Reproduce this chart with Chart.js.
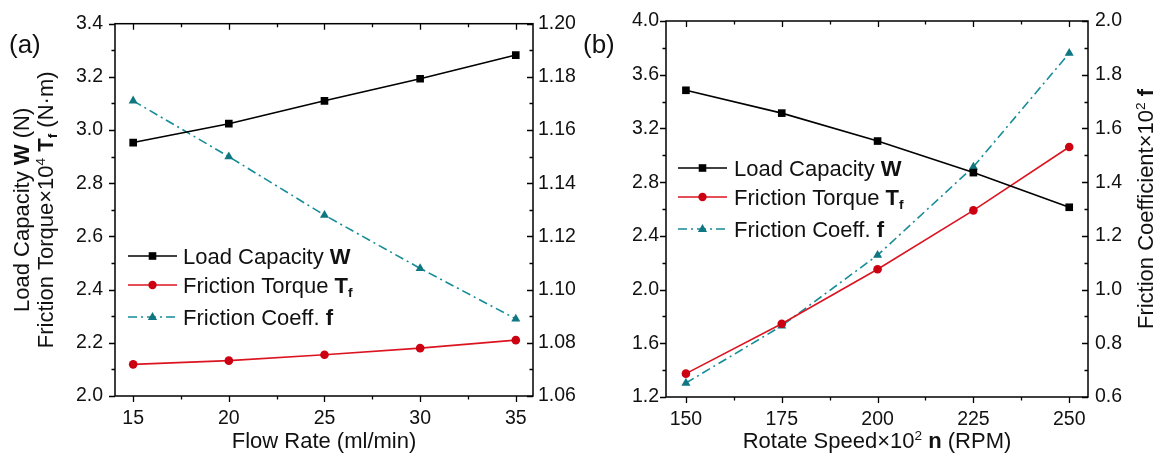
<!DOCTYPE html>
<html><head><meta charset="utf-8">
<script src="https://cdn.jsdelivr.net/npm/chart.js@4/dist/chart.umd.min.js"></script>
<style>
html,body{margin:0;padding:0;background:#fff;overflow:hidden;width:1158px;height:459px}
#wa{position:absolute;left:0;top:0;width:590px;height:459px}
#wb{position:absolute;left:580px;top:0;width:578px;height:459px}
canvas{display:block}
</style></head><body>
<div id="wa"><canvas id="ca" width="590" height="459"></canvas></div>
<div id="wb"><canvas id="cb" width="578" height="459"></canvas></div>
<script>
// ---------- Panel (a) data ----------
const flowRate = [15, 20, 25, 30, 35];
const loadCapacityA = [2.953, 3.024, 3.110, 3.193, 3.282];
const frictionTorqueA = [2.119, 2.133, 2.155, 2.180, 2.210];
const frictionCoeffA = [1.171, 1.150, 1.128, 1.108, 1.089];
const xTickLabelsA = ['15', '20', '25', '30', '35'];
const yLeftTickLabelsA = ['2.0', '2.2', '2.4', '2.6', '2.8', '3.0', '3.2', '3.4'];
const yRightTickLabelsA = ['1.06', '1.08', '1.10', '1.12', '1.14', '1.16', '1.18', '1.20'];

// ---------- Panel (b) data ----------
const rotateSpeed = [150, 175, 200, 225, 250];
const loadCapacityB = [3.484, 3.314, 3.106, 2.871, 2.613];
const frictionTorqueB = [1.374, 1.746, 2.151, 2.590, 3.062];
const frictionCoeffB = [0.652, 0.865, 1.128, 1.457, 1.880];
const xTickLabelsB = ['150', '175', '200', '225', '250'];
const yLeftTickLabelsB = ['1.2', '1.6', '2.0', '2.4', '2.8', '3.2', '3.6', '4.0'];
const yRightTickLabelsB = ['0.6', '0.8', '1.0', '1.2', '1.4', '1.6', '1.8', '2.0'];

const FAM = '"Liberation Sans", Arial, Helvetica, sans-serif';
const TXT = '#111';
const BLACK = '#000000';
const RED = '#dc1420';
const RED_M = '#cc0010';
const TEAL = '#168c98';
const TEAL_M = '#0e7782';
const DASHDOT = [9, 4, 2, 4];

function pts(xs, ys) { return xs.map((x, i) => ({ x: x, y: ys[i] })); }

function richWidth(ctx, segs, size) {
  let w = 0;
  for (const s of segs) {
    const sz = (s.sup || s.sub) ? size * 0.62 : size;
    ctx.font = (s.b ? 'bold ' : '') + sz + 'px ' + FAM;
    w += ctx.measureText(s.t).width;
  }
  return w;
}
function drawRich(ctx, segs, x, y, size, align) {
  const w = richWidth(ctx, segs, size);
  let cx = align === 'center' ? x - w / 2 : (align === 'right' ? x - w : x);
  ctx.textAlign = 'left';
  ctx.textBaseline = 'alphabetic';
  ctx.fillStyle = TXT;
  for (const s of segs) {
    const sz = (s.sup || s.sub) ? size * 0.62 : size;
    ctx.font = (s.b ? 'bold ' : '') + sz + 'px ' + FAM;
    let dy = 0;
    if (s.sup) dy = -size * 0.38;
    if (s.sub) dy = size * 0.2;
    ctx.fillText(s.t, cx, y + dy);
    cx += ctx.measureText(s.t).width;
  }
}
function drawMarker(ctx, kind, x, y, color) {
  ctx.save();
  ctx.fillStyle = color; ctx.strokeStyle = color; ctx.lineWidth = 1;
  ctx.setLineDash([]);
  ctx.beginPath();
  if (kind === 'rect') { ctx.rect(x - 3.8, y - 3.8, 7.6, 7.6); }
  else if (kind === 'circle') { ctx.arc(x, y, 4.2, 0, Math.PI * 2); }
  else { ctx.moveTo(x, y - 5); ctx.lineTo(x + 4.6, y + 3); ctx.lineTo(x - 4.6, y + 3); ctx.closePath(); }
  ctx.fill();
  ctx.restore();
}

function makeScaleSetup(labels) {
  const vals = labels.map(Number);
  return function (scale) { scale.ticks = vals.map(v => ({ value: v })); };
}
function fmt(labels) {
  const vals = labels.map(Number);
  return function (value) {
    const i = vals.findIndex(v => Math.abs(v - value) < 1e-9);
    return i >= 0 ? labels[i] : '';
  };
}

function decorPlugin(cfg) {
  return {
    id: 'decor' + cfg.id,
    afterDraw(chart) {
      const ctx = chart.ctx;
      const a = chart.chartArea;
      const xs = chart.scales.x, yl = chart.scales.y, yr = chart.scales.y1;
      ctx.save();
      // frame
      ctx.strokeStyle = '#000'; ctx.lineWidth = 1.5; ctx.setLineDash([]);
      ctx.strokeRect(a.left, a.top, a.right - a.left, a.bottom - a.top);
      ctx.lineWidth = 1.3;
      ctx.beginPath();
      // x ticks (bottom outward, top inward)
      const xv = cfg.xTicks.map(Number);
      const xMinor = [];
      for (let i = 0; i < xv.length - 1; i++) xMinor.push((xv[i] + xv[i + 1]) / 2);
      for (const v of xv) {
        const p = Math.round(xs.getPixelForValue(v)) + 0.5;
        ctx.moveTo(p, a.bottom); ctx.lineTo(p, a.bottom + 6);
        ctx.moveTo(p, a.top); ctx.lineTo(p, a.top + 6);
      }
      for (const v of xMinor) {
        const p = Math.round(xs.getPixelForValue(v)) + 0.5;
        ctx.moveTo(p, a.bottom); ctx.lineTo(p, a.bottom + 3.5);
        ctx.moveTo(p, a.top); ctx.lineTo(p, a.top + 3.5);
      }
      // left y ticks outward
      const lv = cfg.yLeft.map(Number);
      for (let i = 0; i < lv.length; i++) {
        const p = Math.round(yl.getPixelForValue(lv[i])) + 0.5;
        ctx.moveTo(a.left, p); ctx.lineTo(a.left - 6, p);
        if (i < lv.length - 1) {
          const q = Math.round(yl.getPixelForValue((lv[i] + lv[i + 1]) / 2)) + 0.5;
          ctx.moveTo(a.left, q); ctx.lineTo(a.left - 3.5, q);
        }
      }
      // right y ticks inward
      const rv = cfg.yRight.map(Number);
      for (let i = 0; i < rv.length; i++) {
        const p = Math.round(yr.getPixelForValue(rv[i])) + 0.5;
        ctx.moveTo(a.right, p); ctx.lineTo(a.right - 6, p);
        if (i < rv.length - 1) {
          const q = Math.round(yr.getPixelForValue((rv[i] + rv[i + 1]) / 2)) + 0.5;
          ctx.moveTo(a.right, q); ctx.lineTo(a.right - 3.5, q);
        }
      }
      ctx.stroke();

      // panel label
      ctx.font = '26px ' + FAM; ctx.fillStyle = TXT; ctx.textAlign = 'left'; ctx.textBaseline = 'alphabetic';
      ctx.fillText(cfg.panel, cfg.panelX, cfg.panelY);

      // x title
      drawRich(ctx, cfg.xTitle, (a.left + a.right) / 2, cfg.xTitleY, 22, 'center');

      // rotated titles
      const cy = (a.top + a.bottom) / 2;
      for (const t of cfg.vTitles) {
        ctx.save();
        ctx.translate(t.x, cy);
        ctx.rotate(-Math.PI / 2);
        drawRich(ctx, t.segs, 0, 0, 22, 'center');
        ctx.restore();
      }

      // legend
      const L = cfg.legend;
      const rows = [
        { segs: [{ t: 'Load Capacity ' }, { t: 'W', b: true }], color: BLACK, mcolor: BLACK, dash: [], m: 'rect' },
        { segs: [{ t: 'Friction Torque ' }, { t: 'T', b: true }, { t: 'f', b: true, sub: true }], color: RED, mcolor: RED_M, dash: [], m: 'circle' },
        { segs: [{ t: 'Friction Coeff. ' }, { t: 'f', b: true }], color: TEAL, mcolor: TEAL_M, dash: DASHDOT, m: 'tri' }
      ];
      rows.forEach((r, i) => {
        const y = L.ys[i];
        ctx.save();
        ctx.strokeStyle = r.color; ctx.lineWidth = 1.6; ctx.setLineDash(r.dash);
        ctx.beginPath(); ctx.moveTo(L.x1, y); ctx.lineTo(L.x2, y); ctx.stroke();
        ctx.restore();
        drawMarker(ctx, r.m, (L.x1 + L.x2) / 2, y, r.mcolor);
        drawRich(ctx, r.segs, L.tx, y + 8, 22, 'left');
      });
      ctx.restore();
    }
  };
}

function makeChart(id, d) {
  const tickFont = { family: FAM, size: 19.5 };
  return new Chart(document.getElementById(id), {
    type: 'line',
    data: {
      datasets: [
        { label: 'Load Capacity W', data: pts(d.x, d.w), yAxisID: 'y', borderColor: BLACK, backgroundColor: BLACK,
          borderWidth: 1.6, pointStyle: 'rect', pointRadius: 5.4, pointBorderWidth: 0, pointBackgroundColor: BLACK, tension: 0 },
        { label: 'Friction Torque Tf', data: pts(d.x, d.t), yAxisID: 'y', borderColor: RED, backgroundColor: RED_M,
          borderWidth: 1.6, pointStyle: 'circle', pointRadius: 4.3, pointBorderWidth: 0, pointBackgroundColor: RED_M, tension: 0 },
        { label: 'Friction Coeff. f', data: pts(d.x, d.f), yAxisID: 'y1', borderColor: TEAL, backgroundColor: TEAL_M,
          borderWidth: 1.6, borderDash: DASHDOT, pointStyle: 'triangle', pointRadius: 5.2, pointBorderWidth: 0, pointBackgroundColor: TEAL_M, tension: 0 }
      ]
    },
    options: {
      responsive: false, animation: false, devicePixelRatio: 1,
      layout: { padding: { top: d.top, left: 0, right: 0, bottom: 0 } },
      plugins: { legend: { display: false }, tooltip: { enabled: false } },
      scales: {
        x: {
          type: 'linear', position: 'bottom', min: d.xmin, max: d.xmax,
          afterBuildTicks: makeScaleSetup(d.xTicks),
          afterFit: s => { s.height = d.xh; },
          grid: { display: false, drawTicks: false }, border: { display: false },
          ticks: { font: tickFont, color: TXT, padding: 11, autoSkip: false, maxRotation: 0, callback: fmt(d.xTicks) }
        },
        y: {
          type: 'linear', position: 'left', min: Number(d.yLeft[0]), max: Number(d.yLeft[d.yLeft.length - 1]),
          afterBuildTicks: makeScaleSetup(d.yLeft),
          afterFit: s => { s.width = d.ylw; },
          grid: { display: false, drawTicks: false }, border: { display: false },
          ticks: { font: tickFont, color: TXT, padding: d.ylpad, autoSkip: false, callback: fmt(d.yLeft) }
        },
        y1: {
          type: 'linear', position: 'right', min: Number(d.yRight[0]), max: Number(d.yRight[d.yRight.length - 1]),
          afterBuildTicks: makeScaleSetup(d.yRight),
          afterFit: s => { s.width = d.yrw; },
          grid: { display: false, drawTicks: false }, border: { display: false },
          ticks: { font: tickFont, color: TXT, padding: d.yrpad, autoSkip: false, callback: fmt(d.yRight) }
        }
      }
    },
    plugins: [decorPlugin(d.decor)]
  });
}

makeChart('ca', {
  x: flowRate, w: loadCapacityA, t: frictionTorqueA, f: frictionCoeffA,
  xmin: 14.05, xmax: 35.9, xTicks: xTickLabelsA, yLeft: yLeftTickLabelsA, yRight: yRightTickLabelsA,
  top: 20, xh: 63, ylw: 115, yrw: 57, ylpad: 12, yrpad: 5,
  decor: {
    id: 'a', panel: '(a)', panelX: 9, panelY: 53,
    xTicks: xTickLabelsA, yLeft: yLeftTickLabelsA, yRight: yRightTickLabelsA,
    xTitle: [{ t: 'Flow Rate (ml/min)' }], xTitleY: 448,
    vTitles: [
      { x: 29, segs: [{ t: 'Load Capacity ' }, { t: 'W', b: true }, { t: ' (N)' }] },
      { x: 53, segs: [{ t: 'Friction Torque×10' }, { t: '4', sup: true }, { t: ' ' }, { t: 'T', b: true }, { t: 'f', b: true, sub: true }, { t: ' (N·m)' }] }
    ],
    legend: { x1: 128, x2: 177, tx: 183, ys: [256, 285, 317] }
  }
});

makeChart('cb', {
  x: rotateSpeed, w: loadCapacityB, t: frictionTorqueB, f: frictionCoeffB,
  xmin: 144.8, xmax: 254.9, xTicks: xTickLabelsB, yLeft: yLeftTickLabelsB, yRight: yRightTickLabelsB,
  top: 21, xh: 62, ylw: 86, yrw: 70, ylpad: 7, yrpad: 7,
  decor: {
    id: 'b', panel: '(b)', panelX: 3, panelY: 53,
    xTicks: xTickLabelsB, yLeft: yLeftTickLabelsB, yRight: yRightTickLabelsB,
    xTitle: [{ t: 'Rotate Speed×10' }, { t: '2', sup: true }, { t: ' ' }, { t: 'n', b: true }, { t: ' (RPM)' }], xTitleY: 448,
    vTitles: [
      { x: 573, segs: [{ t: 'Friction Coefficient×10' }, { t: '2', sup: true }, { t: ' ' }, { t: 'f', b: true }] }
    ],
    legend: { x1: 98, x2: 147, tx: 154, ys: [168, 197, 229] }
  }
});
</script>
</body></html>
